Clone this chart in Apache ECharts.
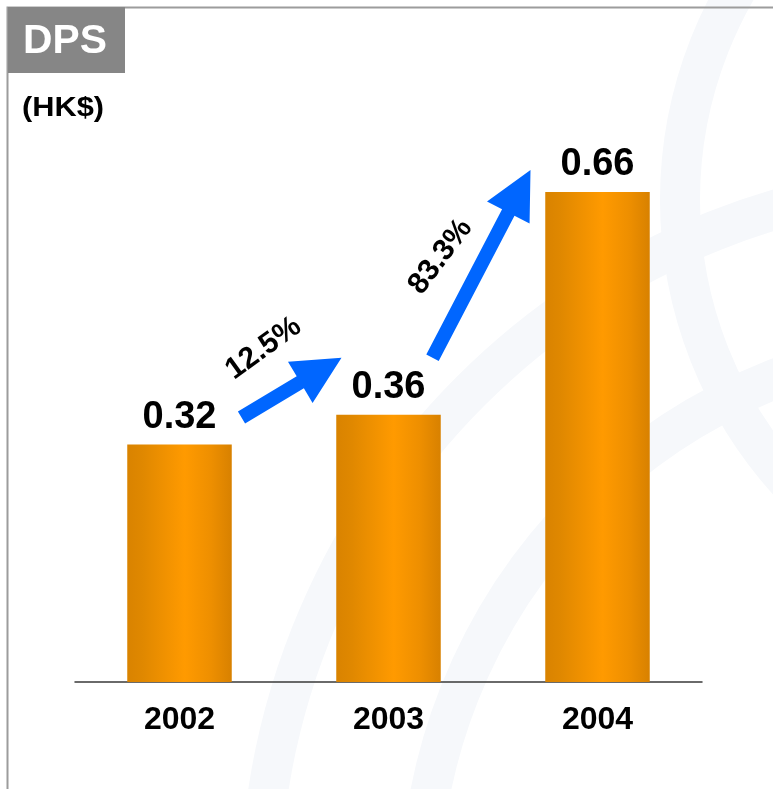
<!DOCTYPE html>
<html>
<head>
<meta charset="utf-8">
<script src="https://cdn.jsdelivr.net/npm/echarts@6/dist/echarts.min.js"></script>
<style>
  html, body { margin: 0; padding: 0; background: #ffffff; }
  #main { width: 773px; height: 789px; }
</style>
</head>
<body>
<div id="main"></div>
<script>
// Dividend per share, HK$
const years = ['2002', '2003', '2004'];
const dps = [0.32, 0.36, 0.66];
const growthLabels = ['12.5%', '83.3%'];

const FONT = '"Liberation Sans", Arial, sans-serif';

const chart = echarts.init(document.getElementById('main'), null, { renderer: 'canvas' });

const barGradient = new echarts.graphic.LinearGradient(0, 0, 1, 0, [
  { offset: 0, color: '#D98300' },
  { offset: 0.15, color: '#E08800' },
  { offset: 0.55, color: '#FF9A00' },
  { offset: 0.8, color: '#EE8F00' },
  { offset: 1, color: '#D88100' }
]);

chart.setOption({
  backgroundColor: '#ffffff',
  animation: false,
  grid: { left: 75, right: 71, top: 88, bottom: 107 },
  xAxis: {
    type: 'category',
    data: years,
    axisLine: { lineStyle: { color: '#3a3a3a', width: 1.5 } },
    axisTick: { show: false },
    axisLabel: {
      margin: 22,
      fontSize: 32,
      fontWeight: 'bold',
      color: '#000000',
      fontFamily: FONT
    }
  },
  yAxis: {
    type: 'value',
    min: 0,
    max: 0.8,
    show: false,
    splitLine: { show: false }
  },
  series: [{
    type: 'bar',
    data: dps,
    barWidth: '50%',
    itemStyle: { color: barGradient },
    label: {
      show: true,
      position: 'top',
      distance: 8,
      fontSize: 38,
      fontWeight: 'bold',
      color: '#000000',
      fontFamily: FONT,
      formatter: p => p.value.toFixed(2)
    },
    z: 5
  }]
});

// Block arrow polygon from tail to tip
function arrowPoints(t, h, shaft, headLen, headW) {
  const dx = h[0] - t[0], dy = h[1] - t[1];
  const len = Math.sqrt(dx * dx + dy * dy);
  const ux = dx / len, uy = dy / len;
  const nx = -uy, ny = ux;
  const b = [h[0] - ux * headLen, h[1] - uy * headLen];
  const off = (p, k) => [p[0] + nx * k, p[1] + ny * k];
  return [
    off(t, shaft / 2), off(b, shaft / 2), off(b, headW / 2), h,
    off(b, -headW / 2), off(b, -shaft / 2), off(t, -shaft / 2)
  ];
}

const pts = years.map((y, i) => chart.convertToPixel({ seriesIndex: 0 }, [y, dps[i]]));
const shift = (p, dx, dy) => [p[0] + dx, p[1] + dy];

const arrows = [
  { tail: shift(pts[0], 62, -27), tip: shift(pts[1], -47, -57),
    text: growthLabels[0], textPos: shift(pts[0], 84, -96), rot: 36 },
  { tail: shift(pts[1], 44, -57), tip: shift(pts[2], -67, -22),
    text: growthLabels[1], textPos: shift(pts[1], 52, -158), rot: 53 }
];

const graphics = [];

// faint watermark bands in the background
[[980, 900, 560], [980, 900, 720], [1100, 200, 420]].forEach(c => {
  graphics.push({
    type: 'circle',
    shape: { cx: c[0], cy: c[1], r: c[2] },
    style: { fill: 'none', stroke: '#F6F8FB', lineWidth: 40 },
    z: -10, silent: true
  });
});

// frame lines
graphics.push({
  type: 'polyline',
  shape: { points: [[7.5, 789], [7.5, 7.5], [773, 7.5]] },
  style: { stroke: '#9c9c9c', lineWidth: 2, fill: 'none' },
  z: 1
});

// title block
graphics.push({
  type: 'rect',
  shape: { x: 8, y: 7, width: 117, height: 66 },
  style: { fill: '#868686' },
  z: 2
});
graphics.push({
  type: 'text',
  x: 23, y: 42, scaleX: 1.02,
  style: {
    text: 'DPS', x: 0, y: 0, fill: '#ffffff',
    font: 'bold 40px ' + FONT,
    textAlign: 'left', textVerticalAlign: 'middle'
  },
  z: 3
});
graphics.push({
  type: 'text',
  x: 22, y: 109, scaleX: 1.14,
  style: {
    text: '(HK$)', x: 0, y: 0, fill: '#000000',
    font: 'bold 27px ' + FONT,
    textAlign: 'left', textVerticalAlign: 'middle'
  },
  z: 3
});

arrows.forEach(a => {
  graphics.push({
    type: 'polygon',
    shape: { points: arrowPoints(a.tail, a.tip, 14, 48, 48) },
    style: { fill: '#0066FF' },
    z: 10
  });
  graphics.push({
    type: 'text',
    x: a.textPos[0], y: a.textPos[1],
    rotation: a.rot * Math.PI / 180,
    style: {
      text: a.text, x: 0, y: 0, fill: '#000000',
      font: 'bold 30px ' + FONT,
      textAlign: 'center', textVerticalAlign: 'middle'
    },
    z: 10
  });
});

chart.setOption({ graphic: graphics });
</script>
</body>
</html>
